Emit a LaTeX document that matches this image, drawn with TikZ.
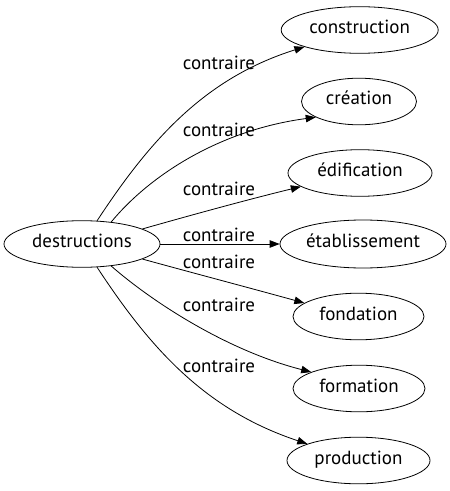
\documentclass[tikz,border=0pt]{standalone}
\usepackage{fontspec}
\setmainfont{PT Sans}
\usetikzlibrary{shapes.geometric,arrows.meta}
\newcommand{\zw}[1]{\makebox[0pt]{#1}}
\begin{document}
\begin{tikzpicture}[x=1bp,y=-1bp,
  word/.style={ellipse,draw,line width=0.8bp,inner sep=0pt,minimum height=46.6bp,
    font=\fontsize{19bp}{22bp}\selectfont,text height=10bp,text depth=3bp},
  lab/.style={font=\fontsize{19bp}{22bp}\selectfont,inner sep=0pt},
  rel/.style={draw,line width=0.8bp,-{Triangle[length=10bp,width=7.5bp]}}]
\useasboundingbox (0,0) rectangle (450,491);
\node[word,minimum width=156bp] (src) at (82,244) {\zw{destructions}};
\node[word,minimum width=157bp] (t1) at (359.7,30) {\zw{construction}};
\node[word,minimum width=115bp] (t2) at (359,101.5) {\zw{création}};
\node[word,minimum width=144bp] (t3) at (360,173) {\zw{édification}};
\node[word,minimum width=166bp,minimum height=48bp] (t4) at (363,244) {\zw{établissement}};
\node[word,minimum width=131bp] (t5) at (358.5,316.5) {\zw{fondation}};
\node[word,minimum width=132bp] (t6) at (359,388.5) {\zw{formation}};
\node[word,minimum width=143bp] (t7) at (358.5,460.5) {\zw{production}};
\draw[rel] (src.57) .. controls (150,140) and (205,78) .. (t1.197);
\draw[rel] (src.37) .. controls (150,175) and (220,130) .. (t2.200);
\draw[rel] (src.14.5) .. controls (195,214) and (250,199) .. (t3.193.6);
\draw[rel] (src.east) -- (t4.west);
\draw[rel] (src.-14.5) .. controls (195,273.5) and (250,288) .. (t5.166);
\draw[rel] (src.-37) .. controls (150,300) and (225,350) .. (t6.161);
\draw[rel] (src.-57) .. controls (150,348) and (205,410) .. (t7.162);
\node[lab] (l1) at (219,63) {contraire};
\node[lab] (l2) at (219,130) {contraire};
\node[lab] (l3) at (219,189) {contraire};
\node[lab] (l4) at (219,235) {contraire};
\node[lab] (l5) at (219,262) {contraire};
\node[lab] (l6) at (219,305) {contraire};
\node[lab] (l7) at (219,366) {contraire};
\end{tikzpicture}
\end{document}
